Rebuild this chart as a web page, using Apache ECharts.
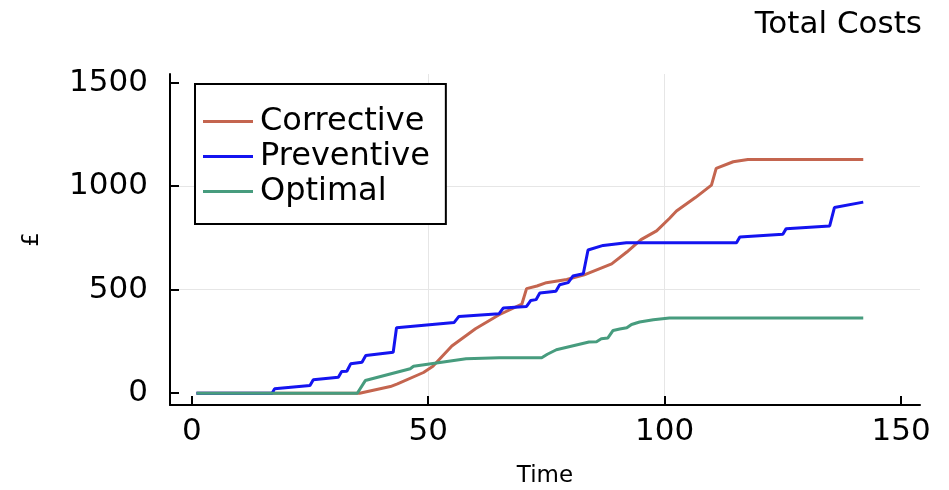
<!DOCTYPE html>
<html>
<head>
<meta charset="utf-8">
<script src="https://cdn.jsdelivr.net/npm/echarts@6/dist/echarts.min.js"></script>
<style>
html, body { margin: 0; padding: 0; background: #fff; }
#chart { width: 949px; height: 490px; }
</style>
</head>
<body>
<div id="chart"></div>
<script>
// time, cumulative cost (£)
const correctiveTime = [1, 35.5, 42, 43.5, 49, 51, 55, 60, 65, 69.8, 70.8, 73, 75, 79.3, 83, 88.8, 92, 95, 98.3, 101, 102.5, 106.5, 109.9, 110.9, 114.5, 117.6, 142]
const correctiveCost = [0, 0, 32, 45, 100, 130, 228, 311, 379, 430, 505, 518, 534, 549, 572, 625, 682, 742, 784, 844, 880, 945, 1005, 1086, 1118, 1129, 1129]

const preventiveTime = [1, 17, 17.5, 25, 25.7, 31, 31.7, 32.8, 33.6, 36, 36.8, 42.6, 43.3, 55.5, 56.5, 65, 65.9, 70.8, 71.7, 72.8, 73.6, 77, 77.8, 79.6, 80.6, 82.8, 83.8, 87, 91.9, 115.2, 115.9, 125, 125.7, 134.9, 135.9, 142]
const preventiveCost = [0, 0, 21, 37, 65, 77, 105, 106, 142, 150, 182, 198, 316, 342, 371, 384, 412, 419, 448, 452, 484, 493, 524, 534, 566, 577, 692, 714, 727, 727, 755, 768, 795, 808, 897, 923]

const optimalTime = [1, 35, 36.7, 46.2, 46.9, 51, 58, 65, 74, 75.2, 77.1, 84, 85.6, 86.6, 88, 89.1, 90.5, 92, 93, 94.7, 97.6, 101, 142]
const optimalCost = [0, 0, 61, 118, 130, 144, 166, 171, 171, 188, 210, 247, 249, 263, 267, 303, 310, 316, 332, 344, 355, 363, 363]

const xTicks = [0, 50, 100, 150]
const yTicks = [0, 500, 1000, 1500]

const zip = (xs, ys) => xs.map((x, i) => [x, ys[i]])

const font = 'DejaVu Sans'
const mychart = echarts.init(document.getElementById('chart'), null, { renderer: 'canvas' })

const axisCommon = {
  type: 'value',
  nameLocation: 'middle',
  nameTextStyle: { fontFamily: font, fontSize: 23, color: '#000' },
  axisLine: { show: true, onZero: false, lineStyle: { color: '#000', width: 2 } },
  axisTick: { show: true, inside: true, length: 9, lineStyle: { color: '#000', width: 2 } },
  splitLine: { show: true, showMinLine: false, showMaxLine: false, lineStyle: { color: '#e6e6e6', width: 1 } }
}

const option = {
  animation: false,
  backgroundColor: '#fff',
  title: {
    text: 'Total Costs',
    right: 27,
    top: 9,
    padding: 0,
    textStyle: { fontFamily: font, fontSize: 31, fontWeight: 'normal', color: '#000' }
  },
  legend: {
    orient: 'vertical',
    left: 195,
    top: 84,
    padding: [20, 16, 15, 8],
    itemGap: 0,
    itemWidth: 50,
    itemHeight: 3,
    icon: 'rect',
    borderColor: '#000',
    borderWidth: 2,
    borderRadius: 0,
    backgroundColor: '#fff',
    textStyle: { fontFamily: font, fontSize: 32, lineHeight: 35, color: '#000', padding: [0, 0, 0, 2] },
    data: ['Corrective', 'Preventive', 'Optimal']
  },
  grid: { left: 170, right: 29, top: 74, bottom: 85, outerBoundsMode: 'none' },
  xAxis: Object.assign({}, axisCommon, {
    name: 'Time',
    nameGap: 60,
    min: -4.6,
    max: 154,
    axisTick: Object.assign({}, axisCommon.axisTick, { customValues: xTicks }),
    axisLabel: { customValues: xTicks, fontFamily: font, fontSize: 31, color: '#000', margin: 11 }
  }),
  yAxis: Object.assign({}, axisCommon, {
    name: '£',
    nameGap: 126,
    min: -57,
    max: 1542,
    axisTick: Object.assign({}, axisCommon.axisTick, { customValues: yTicks }),
    axisLabel: { customValues: yTicks, fontFamily: font, fontSize: 31, color: '#000', margin: 22, formatter: v => String(v) }
  }),
  series: [
    { name: 'Corrective', type: 'line', symbol: 'none', color: '#c4654f', lineStyle: { width: 3 }, data: zip(correctiveTime, correctiveCost) },
    { name: 'Preventive', type: 'line', symbol: 'none', color: '#1414f0', lineStyle: { width: 3 }, data: zip(preventiveTime, preventiveCost) },
    { name: 'Optimal', type: 'line', symbol: 'none', color: '#479c7e', lineStyle: { width: 3 }, data: zip(optimalTime, optimalCost) }
  ]
}
mychart.setOption(option, true)
</script>
</body>
</html>
